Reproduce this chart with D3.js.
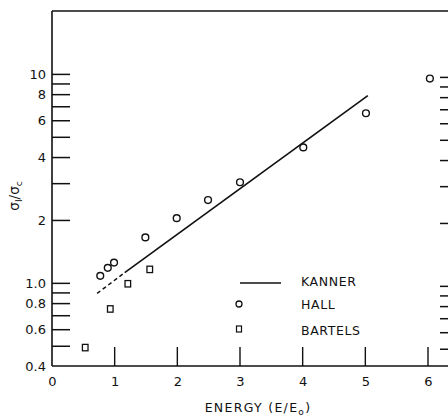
<!DOCTYPE html>
<html><head><meta charset="utf-8">
<script src="https://cdn.jsdelivr.net/npm/d3@7/dist/d3.min.js"></script>
<style>
html,body{margin:0;padding:0;background:#fff;}
svg{display:block;}
text{font-family:"DejaVu Sans",sans-serif;fill:#111;}
</style></head>
<body>
<svg id="c" width="448" height="416"></svg>
<script>
// ---- data ----
const xTicks = [0, 1, 2, 3, 4, 5, 6];
const yTicks = [0.5, 0.6, 0.7, 0.8, 0.9, 1, 2, 3, 4, 5, 6, 7, 8, 9, 10];
const yTickLabels = [
  {v: 0.4, t: "0.4"}, {v: 0.6, t: "0.6"}, {v: 0.8, t: "0.8"}, {v: 1, t: "1.0"},
  {v: 2, t: "2"}, {v: 4, t: "4"}, {v: 6, t: "6"}, {v: 8, t: "8"}, {v: 10, t: "10"}
];
const hallX = [0.77, 0.89, 0.99, 1.49, 1.99, 2.49, 3.0, 4.01, 5.01, 6.03];
const hallY = [1.08, 1.18, 1.25, 1.65, 2.04, 2.49, 3.03, 4.45, 6.48, 9.5];
const bartelsX = [0.53, 0.93, 1.21, 1.56];
const bartelsY = [0.49, 0.75, 0.99, 1.16];
const kannerDashedX = [0.72, 1.16];
const kannerDashedY = [0.89, 1.12];
const kannerSolidX = [1.16, 5.04];
const kannerSolidY = [1.12, 7.87];
const legendItems = ["KANNER", "HALL", "BARTELS"];

// ---- layout ----
const svg = d3.select("#c");
const x = d3.scaleLinear().domain([0, 6]).range([52, 428]);
const y = d3.scaleLog().domain([0.4, 20]).range([366, 11]);
const xEnd = 448;

const ink = "#111";

// frame: left axis, top border, bottom axis line
svg.append("line").attr("x1", x(0)).attr("x2", x(0)).attr("y1", y(20)).attr("y2", y(0.4))
  .attr("stroke", ink).attr("stroke-width", 1.6);
svg.append("line").attr("x1", x(0)).attr("x2", xEnd).attr("y1", y(20)).attr("y2", y(20))
  .attr("stroke", ink).attr("stroke-width", 1.6);
svg.append("line").attr("x1", x(0)).attr("x2", xEnd).attr("y1", y(0.4)).attr("y2", y(0.4))
  .attr("stroke", ink).attr("stroke-width", 1.6);

// x axis (ticks pointing up)
const gx = svg.append("g").attr("transform", `translate(0,${y(0.4)})`)
  .call(d3.axisBottom(x).tickValues(xTicks).tickSize(0).tickPadding(11).tickFormat(d3.format("d")));
gx.select(".domain").remove();
gx.selectAll("text").attr("font-size", 13).attr("fill", ink).style("font-family", "DejaVu Sans");
gx.selectAll(".tk").data(xTicks.filter(d => d > 0)).enter().append("line")
  .attr("x1", d => x(d)).attr("x2", d => x(d)).attr("y1", 0).attr("y2", -19)
  .attr("stroke", ink).attr("stroke-width", 1.4);

// left y axis ticks (pointing inward)
const gy = svg.append("g").attr("transform", `translate(${x(0)},0)`)
  .call(d3.axisRight(y).tickValues(yTicks).tickSize(18).tickFormat(""));
gy.select(".domain").remove();
gy.selectAll("line").attr("stroke", ink).attr("stroke-width", 1.5);
svg.append("g").selectAll("text").data(yTickLabels).enter().append("text")
  .attr("x", x(0) - 6).attr("y", d => y(d.v)).attr("dy", "0.36em")
  .attr("text-anchor", "end").attr("font-size", 13).text(d => d.t);

// right side ticks
const gr = svg.append("g").attr("transform", `translate(${xEnd},3)`)
  .call(d3.axisLeft(y).tickValues(yTicks).tickSize(8).tickFormat(""));
gr.select(".domain").remove();
gr.selectAll("line").attr("stroke", ink).attr("stroke-width", 1.5);

// axis titles
const xt = svg.append("text").attr("x", 258).attr("y", 412).attr("text-anchor", "middle")
  .attr("font-size", 12.5).attr("letter-spacing", 1.3);
xt.append("tspan").text("ENERGY  (E/E");
xt.append("tspan").attr("font-size", 9).attr("dy", 3).text("o");
xt.append("tspan").attr("dy", -3).text(")");

const yt = svg.append("text").attr("transform", "translate(19,196) rotate(-90)")
  .attr("text-anchor", "middle").attr("font-size", 13.5);
yt.append("tspan").text("σ");
yt.append("tspan").attr("font-size", 9).attr("dy", 3).text("I");
yt.append("tspan").attr("dy", -3).text("/σ");
yt.append("tspan").attr("font-size", 9).attr("dy", 3).text("c");

// Kanner line
const line = d3.line().x(d => x(d[0])).y(d => y(d[1]));
svg.append("path").datum(d3.zip(kannerDashedX, kannerDashedY)).attr("d", line)
  .attr("fill", "none").attr("stroke", ink).attr("stroke-width", 1.5).attr("stroke-dasharray", "4,3");
svg.append("path").datum(d3.zip(kannerSolidX, kannerSolidY)).attr("d", line)
  .attr("fill", "none").attr("stroke", ink).attr("stroke-width", 1.7);

// Hall circles
svg.append("g").selectAll("circle").data(d3.zip(hallX, hallY)).enter().append("circle")
  .attr("cx", d => x(d[0])).attr("cy", d => y(d[1])).attr("r", 3.4)
  .attr("fill", "none").attr("stroke", ink).attr("stroke-width", 1.4);

// Bartels squares
svg.append("g").selectAll("rect").data(d3.zip(bartelsX, bartelsY)).enter().append("rect")
  .attr("x", d => x(d[0]) - 2.8).attr("y", d => y(d[1]) - 3.2).attr("width", 5.6).attr("height", 6.4)
  .attr("fill", "none").attr("stroke", ink).attr("stroke-width", 1.3);

// legend
const lg = svg.append("g").attr("transform", "translate(239,283)");
const rowH = 23;
lg.append("line").attr("x1", 1).attr("x2", 42).attr("y1", 0).attr("y2", 0)
  .attr("stroke", ink).attr("stroke-width", 1.5);
lg.append("circle").attr("cx", 0).attr("cy", rowH - 2).attr("r", 3).attr("fill", "none")
  .attr("stroke", ink).attr("stroke-width", 1.3);
lg.append("rect").attr("x", -2.5).attr("y", 2 * rowH - 3.5 + 0.5).attr("width", 5).attr("height", 6)
  .attr("fill", "none").attr("stroke", ink).attr("stroke-width", 1.2);
lg.selectAll(".lt").data(legendItems).enter().append("text")
  .attr("x", 62).attr("y", (d, i) => i * rowH + (i === 2 ? 1 : -2)).attr("dy", "0.36em")
  .attr("font-size", 12.5).attr("letter-spacing", 0.6).text(d => d);
</script>
</body></html>
